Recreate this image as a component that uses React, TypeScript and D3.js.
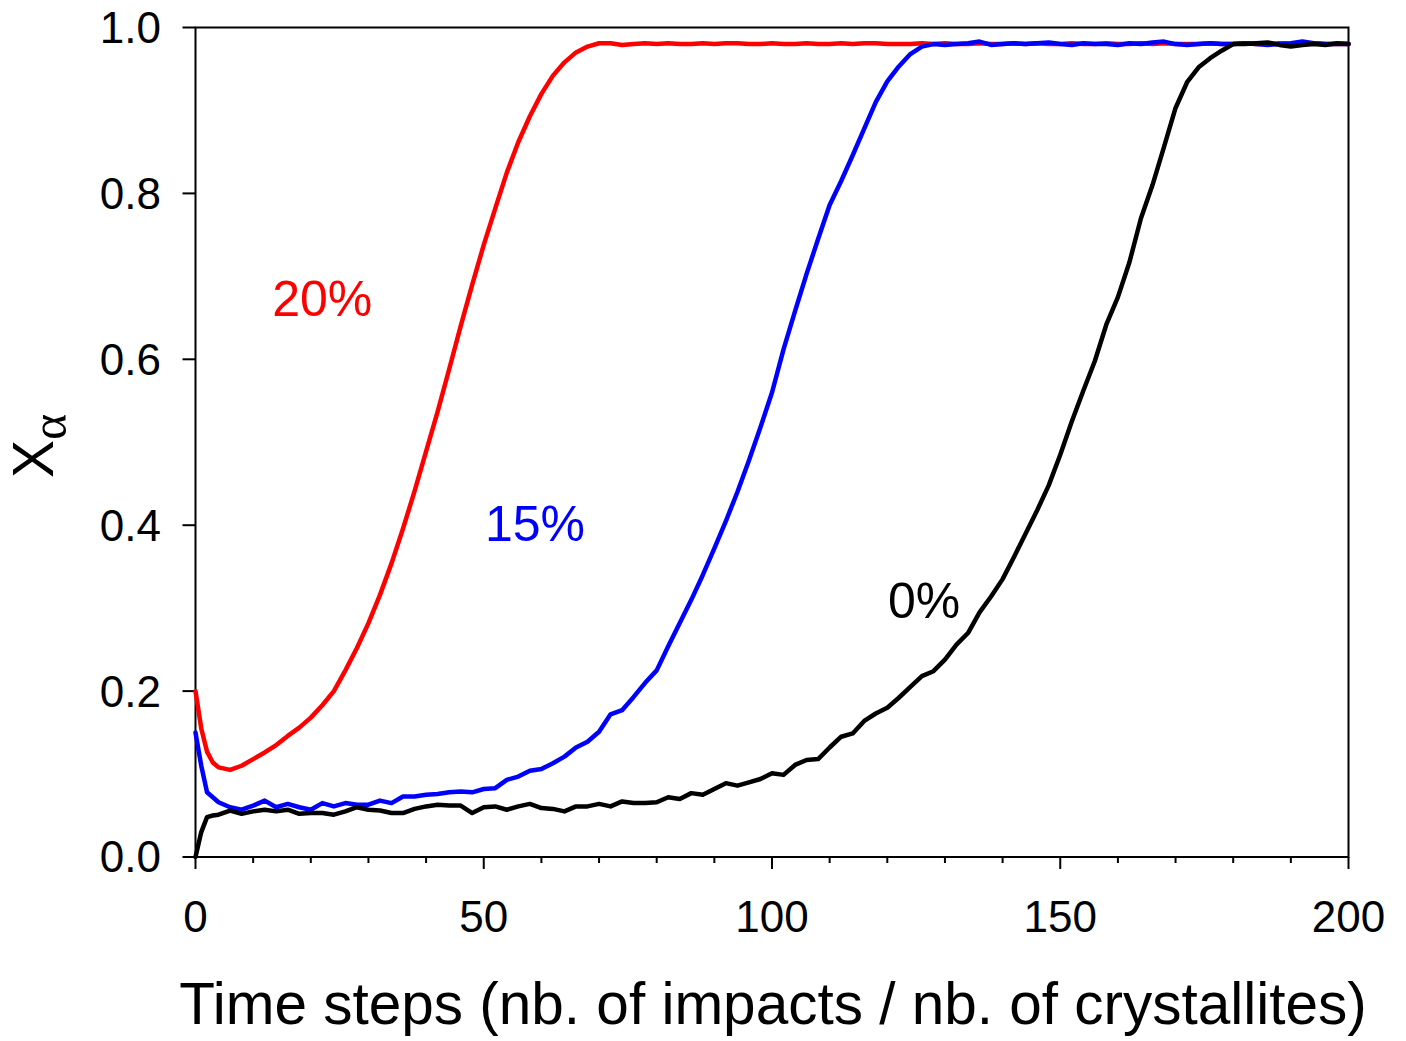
import React from 'react';
import * as d3 from 'd3';

const steps = [0, 1, 2, 3, 4, 6, 8, 10, 12, 14, 16, 18, 20, 22, 24, 26, 28, 30, 32, 34, 36, 38, 40, 42, 44, 46, 48, 50, 52, 54, 56, 58, 60, 62, 64, 66, 68, 70, 72, 74, 76, 78, 80, 82, 84, 86, 88, 90, 92, 94, 96, 98, 100, 102, 104, 106, 108, 110, 112, 114, 116, 118, 120, 122, 124, 126, 128, 130, 132, 134, 136, 138, 140, 142, 144, 146, 148, 150, 152, 154, 156, 158, 160, 162, 164, 166, 168, 170, 172, 174, 176, 178, 180, 182, 184, 186, 188, 190, 192, 194, 196, 198, 200];

const xAlpha20 = [0.200, 0.155, 0.127, 0.114, 0.108, 0.105, 0.110, 0.118, 0.126, 0.135, 0.146, 0.156, 0.168, 0.183, 0.200, 0.225, 0.252, 0.282, 0.316, 0.354, 0.396, 0.441, 0.489, 0.537, 0.588, 0.640, 0.690, 0.738, 0.782, 0.825, 0.862, 0.893, 0.920, 0.942, 0.958, 0.970, 0.977, 0.981, 0.981, 0.979, 0.980, 0.981, 0.980, 0.981, 0.980, 0.980, 0.981, 0.980, 0.981, 0.981, 0.980, 0.980, 0.981, 0.980, 0.980, 0.981, 0.980, 0.980, 0.981, 0.980, 0.981, 0.981, 0.980, 0.980, 0.980, 0.981, 0.980, 0.981, 0.980, 0.980, 0.981, 0.980, 0.980, 0.981, 0.980, 0.981, 0.980, 0.980, 0.981, 0.980, 0.980, 0.981, 0.980, 0.980, 0.981, 0.980, 0.981, 0.980, 0.980, 0.980, 0.981, 0.980, 0.980, 0.981, 0.980, 0.980, 0.981, 0.980, 0.980, 0.981, 0.980, 0.980, 0.980];

const xAlpha15 = [0.150, 0.110, 0.078, 0.072, 0.066, 0.060, 0.057, 0.062, 0.068, 0.060, 0.064, 0.060, 0.057, 0.065, 0.061, 0.065, 0.063, 0.063, 0.068, 0.065, 0.073, 0.073, 0.075, 0.076, 0.078, 0.079, 0.078, 0.082, 0.083, 0.093, 0.097, 0.104, 0.106, 0.113, 0.121, 0.132, 0.139, 0.151, 0.172, 0.177, 0.193, 0.210, 0.225, 0.254, 0.282, 0.310, 0.340, 0.372, 0.405, 0.440, 0.478, 0.518, 0.560, 0.612, 0.658, 0.703, 0.745, 0.786, 0.815, 0.846, 0.878, 0.910, 0.935, 0.953, 0.968, 0.977, 0.980, 0.979, 0.980, 0.981, 0.983, 0.979, 0.980, 0.981, 0.980, 0.981, 0.982, 0.980, 0.979, 0.981, 0.980, 0.980, 0.979, 0.981, 0.980, 0.982, 0.983, 0.980, 0.979, 0.980, 0.981, 0.980, 0.980, 0.981, 0.980, 0.979, 0.980, 0.981, 0.983, 0.981, 0.980, 0.980, 0.980];

const xAlpha0 = [0.000, 0.030, 0.048, 0.050, 0.051, 0.056, 0.052, 0.055, 0.057, 0.055, 0.057, 0.052, 0.053, 0.053, 0.051, 0.055, 0.060, 0.057, 0.056, 0.053, 0.053, 0.058, 0.061, 0.063, 0.062, 0.062, 0.053, 0.060, 0.061, 0.057, 0.061, 0.064, 0.059, 0.058, 0.055, 0.061, 0.061, 0.064, 0.061, 0.067, 0.065, 0.065, 0.066, 0.072, 0.070, 0.077, 0.075, 0.082, 0.089, 0.086, 0.090, 0.094, 0.101, 0.099, 0.111, 0.117, 0.118, 0.132, 0.145, 0.149, 0.164, 0.173, 0.180, 0.192, 0.205, 0.218, 0.224, 0.238, 0.256, 0.270, 0.295, 0.314, 0.335, 0.362, 0.390, 0.418, 0.448, 0.485, 0.525, 0.562, 0.598, 0.642, 0.675, 0.717, 0.770, 0.810, 0.856, 0.903, 0.934, 0.952, 0.963, 0.972, 0.980, 0.980, 0.981, 0.982, 0.979, 0.977, 0.979, 0.980, 0.979, 0.981, 0.980];

const seriesNames = ['20%', '15%', '0%'];
const seriesColors = ['#ff0000', '#0000ff', '#000000'];
const labelX = [13.3, 50.2, 120.1];
const labelY = [0.652, 0.381, 0.288];

const xMajorTicks = [0, 50, 100, 150, 200];
const xMinorTicks = [10, 20, 30, 40, 60, 70, 80, 90, 110, 120, 130, 140, 160, 170, 180, 190];
const yTicks = [0, 0.2, 0.4, 0.6, 0.8, 1.0];

const W = 1406;
const H = 1041;
const left = 195.5;
const right = 1348.5;
const top = 27.5;
const bottom = 857;

export default function App() {
  const x = d3.scaleLinear().domain([0, 200]).range([left, right]);
  const y = d3.scaleLinear().domain([0, 1]).range([bottom, top]);
  const line = d3
    .line<number>()
    .x((_, i) => x(steps[i]))
    .y((d) => y(d));
  const allSeries = [xAlpha20, xAlpha15, xAlpha0];
  const font = 'Liberation Sans, Arial, sans-serif';

  return (
    <svg
      width={W}
      height={H}
      style={{ position: 'absolute', left: 0, top: 0, display: 'block', background: '#fff' }}
    >
      <rect x={0} y={0} width={W} height={H} fill="#fff" />
      <rect x={left} y={top} width={right - left} height={bottom - top} fill="none" stroke="#000" strokeWidth={2} />
      {xMajorTicks.map((t) => (
        <line key={'xM' + t} x1={x(t)} x2={x(t)} y1={bottom} y2={bottom + 12} stroke="#000" strokeWidth={2} />
      ))}
      {xMinorTicks.map((t) => (
        <line key={'xm' + t} x1={x(t)} x2={x(t)} y1={bottom} y2={bottom + 6} stroke="#000" strokeWidth={2} />
      ))}
      {xMajorTicks.map((t) => (
        <text key={'xl' + t} x={x(t)} y={932} textAnchor="middle" fontFamily={font} fontSize={44} fill="#000">
          {t}
        </text>
      ))}
      {yTicks.map((t) => (
        <line key={'yM' + t} x1={left - 13} x2={left} y1={y(t)} y2={y(t)} stroke="#000" strokeWidth={2} />
      ))}
      {yTicks.map((t) => (
        <text key={'yl' + t} x={161} y={y(t)} dy="0.35em" textAnchor="end" fontFamily={font} fontSize={44} fill="#000">
          {d3.format('.1f')(t)}
        </text>
      ))}
      {allSeries.map((s, i) => (
        <path
          key={'s' + i}
          d={line(s) || ''}
          fill="none"
          stroke={seriesColors[i]}
          strokeWidth={4.5}
          strokeLinejoin="round"
          strokeLinecap="round"
        />
      ))}
      {seriesNames.map((n, i) => (
        <text key={'lab' + i} x={x(labelX[i])} y={y(labelY[i])} fontFamily={font} fontSize={50} fill={seriesColors[i]}>
          {n}
        </text>
      ))}
      <text x={(left + right) / 2 + 1} y={1024} textAnchor="middle" fontFamily={font} fontSize={58.5} fill="#000">
        Time steps (nb. of impacts / nb. of crystallites)
      </text>
      <g transform="translate(53,446) rotate(-90)">
        <text x={0} y={0} textAnchor="middle" fill="#000">
          <tspan fontFamily={font} fontSize={57}>X</tspan>
          <tspan fontFamily="Liberation Serif, DejaVu Serif, serif" fontSize={50} dy={13}>α</tspan>
        </text>
      </g>
    </svg>
  );
}
